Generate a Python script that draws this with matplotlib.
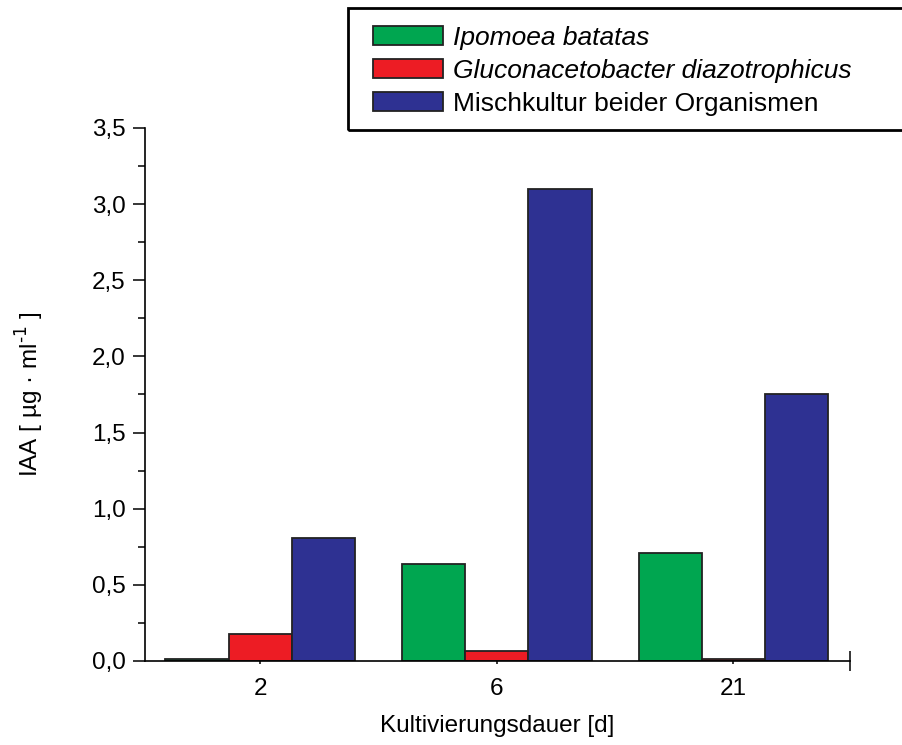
import matplotlib
matplotlib.use("Agg")
import matplotlib.pyplot as plt
import numpy as np
from matplotlib.patches import Rectangle
from matplotlib.ticker import FuncFormatter, MultipleLocator, FixedLocator

plt.rcParams["font.family"] = ["Liberation Sans", "DejaVu Sans"]

days = ["2", "6", "21"]
series = ["Ipomoea batatas", "Gluconacetobacter diazotrophicus", "Mischkultur beider Organismen"]
ipomoea = [0.01, 0.64, 0.71]
glucon = [0.18, 0.065, 0.01]
misch = [0.81, 3.10, 1.75]
colors = ["#00A650", "#ED1C24", "#2E3192"]

fig = plt.figure(figsize=(9.03, 7.45), dpi=100)
ax = fig.add_axes([0.1606, 0.1128, 0.7807, 0.7154])

x = np.arange(len(days))
w = 0.267
handles = []
for i, (vals, col, lab) in enumerate(zip([ipomoea, glucon, misch], colors, series)):
    b = ax.bar(x + (i - 1) * w, vals, width=w, color=col, edgecolor="#222222",
               linewidth=1.3, label=lab)
    handles.append(b)

ax.set_xlim(-0.487, 2.493)
ax.set_ylim(0, 3.5)
ax.spines["top"].set_visible(False)
ax.spines["right"].set_visible(False)
ax.spines["left"].set_linewidth(1.2)
ax.spines["bottom"].set_linewidth(1.2)

ax.yaxis.set_major_locator(MultipleLocator(0.5))
ax.yaxis.set_minor_locator(MultipleLocator(0.25))
ax.yaxis.set_major_formatter(FuncFormatter(lambda v, p: f"{v:.1f}".replace(".", ",")))
ax.tick_params(axis="y", which="major", direction="out", length=9, width=1.1,
               labelsize=17.5, pad=5)
ax.tick_params(axis="y", which="minor", direction="out", length=5, width=1.1)

ax.set_xticks(x)
ax.set_xticklabels(days)
ax.xaxis.set_minor_locator(FixedLocator([2.493]))
ax.tick_params(axis="x", which="major", direction="out", length=2, width=1.1,
               labelsize=17.5, pad=10)
ax.tick_params(axis="x", which="minor", direction="inout", length=14, width=1.1)

ax.set_xlabel("Kultivierungsdauer [d]", fontsize=17.5, labelpad=11)
ax.set_ylabel(r"IAA [ µg · ml$^{\text{-}1}$ ]", fontsize=17.5, labelpad=33)

# legend frame runs past the right edge of the figure
fig.patches.append(Rectangle((348 / 903, 1 - 130 / 745), 0.7, 122 / 745,
                             transform=fig.transFigure, fill=False,
                             edgecolor="black", linewidth=2))
leg = fig.legend(handles=handles, labels=series, loc="upper left",
                 bbox_to_anchor=(373 / 903, 1 - 26 / 745), frameon=False,
                 fontsize=19, handlelength=2.65, handleheight=0.72, handletextpad=0.38,
                 labelspacing=0.34, borderpad=0, borderaxespad=0)
for t in leg.get_texts()[:2]:
    t.set_style("italic")

fig.savefig("out.png", dpi=100, facecolor="white")
